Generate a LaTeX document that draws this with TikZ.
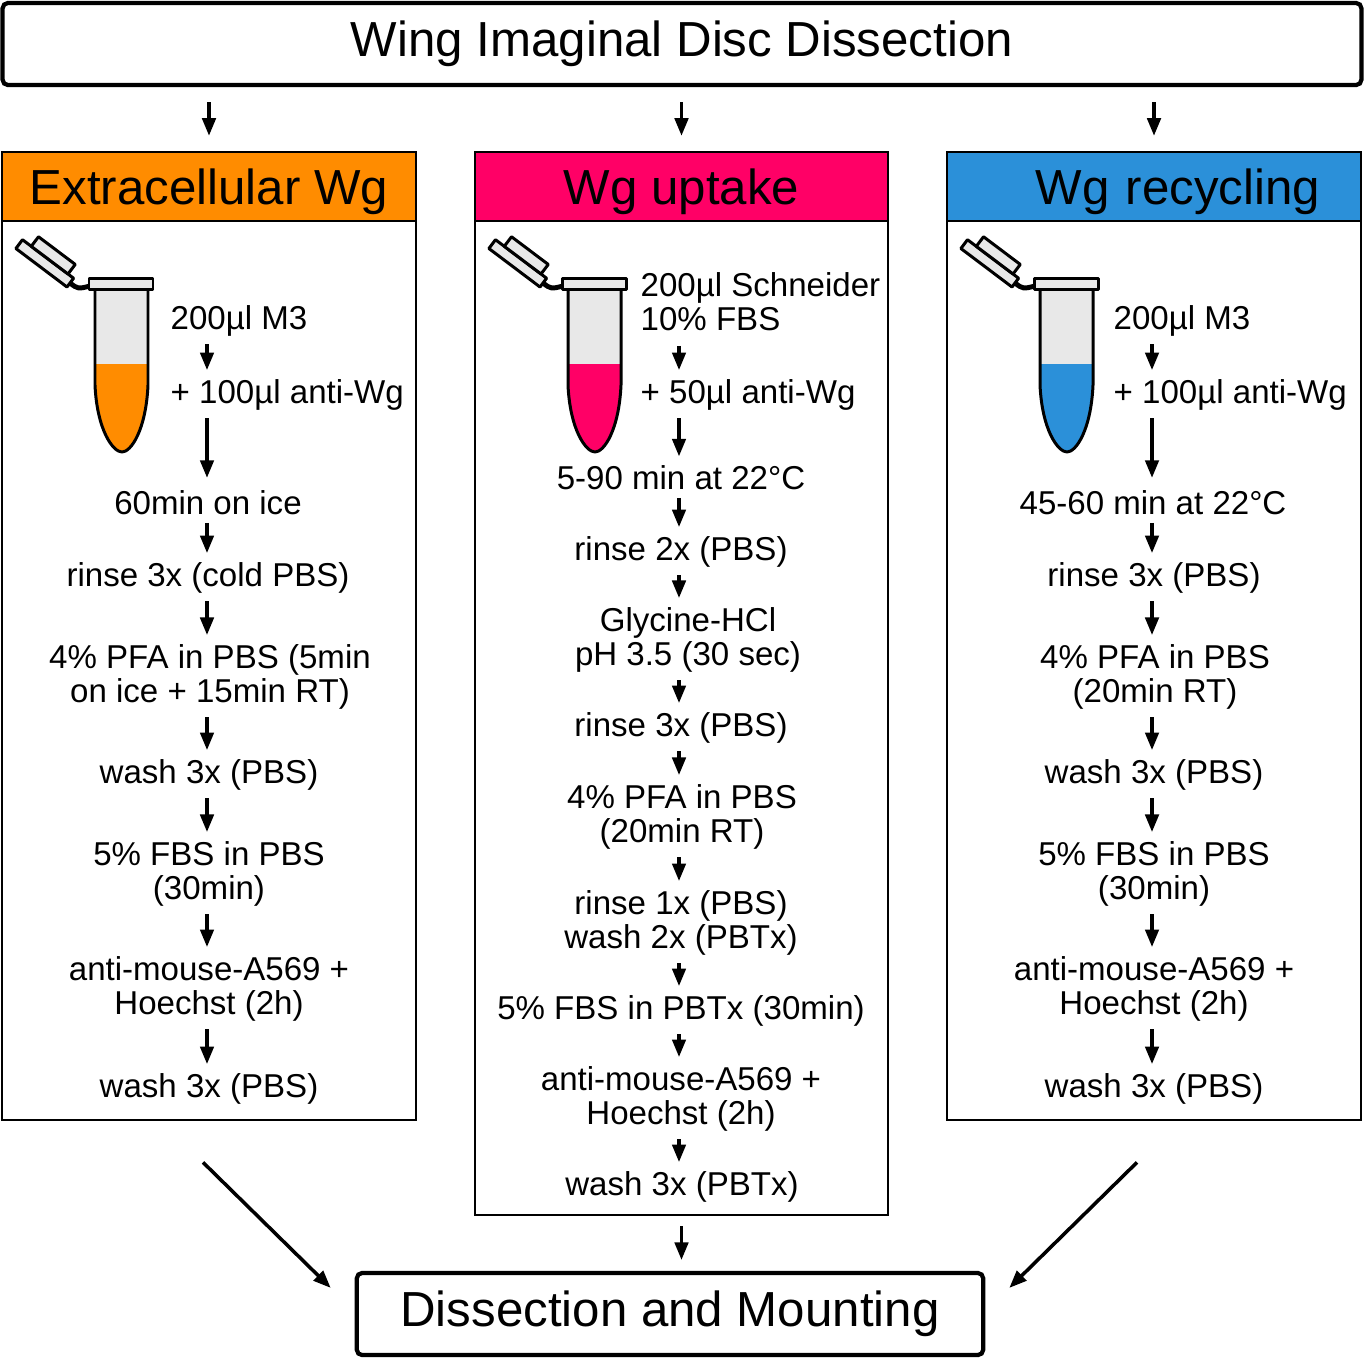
\documentclass[tikz,border=0pt]{standalone}
\usepackage{fontspec}
\setmainfont{Liberation Sans}
\usetikzlibrary{arrows.meta}

\definecolor{extorange}{RGB}{255,140,0}
\definecolor{uptakepink}{RGB}{255,0,102}
\definecolor{recycleblue}{RGB}{43,144,217}
\definecolor{tubegrey}{RGB}{232,232,232}

\tikzset{
    bigbox/.style={draw, line width=1.2pt, rounded corners=1.5pt, inner sep=0pt,
        font=\fontsize{14}{16}\selectfont},
    hdrbox/.style={draw, line width=0.6pt, inner sep=0pt, minimum width=4.13cm,
        minimum height=0.69cm, text depth=0pt, font=\fontsize{14}{16}\selectfont},
    colbox/.style={draw, line width=0.6pt, inner sep=0pt, minimum width=4.13cm},
    stepnode/.style={inner sep=0pt, align=center, font=\fontsize{9.4}{9.7}\selectfont},
    arr/.style={-{Triangle[length=5pt,width=3.8pt]}, line width=1pt,
        shorten <=2pt, shorten >=2.5pt},
    tubeline/.style={line width=0.85pt, line join=round}
}

% eppendorf tube: x offset, liquid colour
\newcommand{\tubebody}{(95,289) -- (95,385) .. controls (97,430) and (113,452) .. (122,452)
    .. controls (131,452) and (146,430) .. (148,385) -- (148,289) -- cycle}
\newcommand{\wgtube}[2]{%
    \begin{scope}[shift={(#1,0)}]
        \begin{scope}[shift={(70,283)}, rotate=143]
            \draw[tubeline, fill=tubegrey] (0,-5) rectangle (64,6);
            \draw[tubeline, fill=tubegrey] (7,6) rectangle (53,18);
        \end{scope}
        \draw[line width=1.4pt] (70,283) .. controls (78,289) .. (90,286);
        \fill[tubegrey] \tubebody;
        \begin{scope}
            \clip \tubebody;
            \fill[#2] (90,364) rectangle (153,460);
        \end{scope}
        \draw[tubeline] \tubebody;
        \draw[tubeline, fill=tubegrey] (89,278) rectangle (153,289);
    \end{scope}}

\begin{document}
\begin{tikzpicture}[x=0.01cm, y=-0.01cm]
    \useasboundingbox (0,0) rectangle (1364,1359);

    % top and bottom
    \node[bigbox, minimum width=13.58cm, minimum height=0.82cm] (title) at (682,44) {Wing Imaginal Disc Dissection};
    \node[bigbox, minimum width=6.26cm, minimum height=0.82cm] (mount) at (670,1314) {Dissection and Mounting};

    % columns
    \node[colbox, minimum height=8.99cm] (bodyl) at (209,670.5) {};
    \node[colbox, minimum height=9.94cm] (bodym) at (681.5,718) {};
    \node[colbox, minimum height=8.99cm] (bodyr) at (1154,670.5) {};
    \node[hdrbox, fill=extorange] (hdl) at (209,186.5) {Extracellular Wg};
    \node[hdrbox, fill=uptakepink] (hdm) at (681.5,186.5) {Wg uptake};
    \node[hdrbox, fill=recycleblue, text width=3.32cm, inner xsep=0.405cm, align=right] (hdr) at (1154,186.5) {Wg recycling};

    \draw[arr, shorten <=4.3pt, shorten >=4.3pt] (title.south -| hdl) -- (hdl.north);
    \draw[arr, shorten <=4.3pt, shorten >=4.3pt] (title.south -| hdm) -- (hdm.north);
    \draw[arr, shorten <=4.3pt, shorten >=4.3pt] (title.south -| hdr) -- (hdr.north);

    \wgtube{0}{extorange}
    \wgtube{473}{uptakepink}
    \wgtube{945}{recycleblue}

    % extracellular
    \coordinate (lx) at (207,0);
    \node[stepnode, anchor=west] (l1) at (170,321) {200µl M3};
    \node[stepnode, anchor=west] (l2) at (170,395) {+ 100µl anti-Wg};
    \node[stepnode] (l3) at (208,503) {60min on ice};
    \node[stepnode] (l4) at (208,578) {rinse 3x (cold PBS)};
    \node[stepnode] (l5) at (210,677) {4\% PFA in PBS (5min\\on ice + 15min RT)};
    \node[stepnode] (l6) at (209,775) {wash 3x (PBS)};
    \node[stepnode] (l7) at (209,874) {5\% FBS in PBS\\(30min)};
    \node[stepnode] (l8) at (209,989) {anti-mouse-A569 +\\Hoechst (2h)};
    \node[stepnode] (l9) at (209,1089) {wash 3x (PBS)};
    \draw[arr] (l1.south -| lx) -- (l2.north -| lx);
    \draw[arr, shorten >=3.5pt] (l2.south -| lx) -- (l3.north -| lx);
    \draw[arr] (l3.south -| lx) -- (l4.north -| lx);
    \draw[arr] (l4.south -| lx) -- (l5.north -| lx);
    \draw[arr] (l5.south -| lx) -- (l6.north -| lx);
    \draw[arr] (l6.south -| lx) -- (l7.north -| lx);
    \draw[arr] (l7.south -| lx) -- (l8.north -| lx);
    \draw[arr] (l8.south -| lx) -- (l9.north -| lx);

    % uptake
    \coordinate (mx) at (679,0);
    \node[stepnode, anchor=west, align=left] (m1) at (640,302) {200µl Schneider\\10\% FBS};
    \node[stepnode, anchor=west] (m2) at (640,395) {+ 50µl anti-Wg};
    \node[stepnode] (m3) at (681,478) {5-90 min at 22°C};
    \node[stepnode] (m4) at (681,552) {rinse 2x (PBS)};
    \node[stepnode] (m5) at (688,640) {Glycine-HCl\\pH 3.5 (30 sec)};
    \node[stepnode] (m6) at (681,728) {rinse 3x (PBS)};
    \node[stepnode] (m7) at (682,817) {4\% PFA in PBS\\(20min RT)};
    \node[stepnode] (m8) at (681,923) {rinse 1x (PBS)\\wash 2x (PBTx)};
    \node[stepnode] (m9) at (681,1011) {5\% FBS in PBTx (30min)};
    \node[stepnode] (m10) at (681,1099) {anti-mouse-A569 +\\Hoechst (2h)};
    \node[stepnode] (m11) at (682,1187) {wash 3x (PBTx)};
    \draw[arr, shorten <=4pt] (m1.south -| mx) -- (m2.north -| mx);
    \draw[arr] (m2.south -| mx) -- (m3.north -| mx);
    \draw[arr] (m3.south -| mx) -- (m4.north -| mx);
    \draw[arr] (m4.south -| mx) -- (m5.north -| mx);
    \draw[arr] (m5.south -| mx) -- (m6.north -| mx);
    \draw[arr] (m6.south -| mx) -- (m7.north -| mx);
    \draw[arr] (m7.south -| mx) -- (m8.north -| mx);
    \draw[arr] (m8.south -| mx) -- (m9.north -| mx);
    \draw[arr] (m9.south -| mx) -- (m10.north -| mx);
    \draw[arr] (m10.south -| mx) -- (m11.north -| mx);

    % recycling
    \coordinate (rx) at (1152,0);
    \node[stepnode, anchor=west] (r1) at (1113,321) {200µl M3};
    \node[stepnode, anchor=west] (r2) at (1113,395) {+ 100µl anti-Wg};
    \node[stepnode] (r3) at (1153,503) {45-60 min at 22°C};
    \node[stepnode] (r4) at (1154,578) {rinse 3x (PBS)};
    \node[stepnode] (r5) at (1155,677) {4\% PFA in PBS\\(20min RT)};
    \node[stepnode] (r6) at (1154,775) {wash 3x (PBS)};
    \node[stepnode] (r7) at (1154,874) {5\% FBS in PBS\\(30min)};
    \node[stepnode] (r8) at (1154,989) {anti-mouse-A569 +\\Hoechst (2h)};
    \node[stepnode] (r9) at (1154,1089) {wash 3x (PBS)};
    \draw[arr] (r1.south -| rx) -- (r2.north -| rx);
    \draw[arr, shorten >=3.5pt] (r2.south -| rx) -- (r3.north -| rx);
    \draw[arr] (r3.south -| rx) -- (r4.north -| rx);
    \draw[arr] (r4.south -| rx) -- (r5.north -| rx);
    \draw[arr] (r5.south -| rx) -- (r6.north -| rx);
    \draw[arr] (r6.south -| rx) -- (r7.north -| rx);
    \draw[arr] (r7.south -| rx) -- (r8.north -| rx);
    \draw[arr] (r8.south -| rx) -- (r9.north -| rx);

    % to mounting
    \draw[arr, shorten <=0pt, shorten >=0pt] ([shift={(-6,41)}]bodyl.south) -- ([shift={(-24,17)}]mount.north west);
    \draw[arr, shorten <=0pt, shorten >=0pt] ([shift={(-17,41)}]bodyr.south) -- ([shift={(24,17)}]mount.north east);
    \draw[arr, shorten <=2.8pt, shorten >=3.1pt] (bodym.south) -- (bodym.south |- mount.north);
\end{tikzpicture}
\end{document}
